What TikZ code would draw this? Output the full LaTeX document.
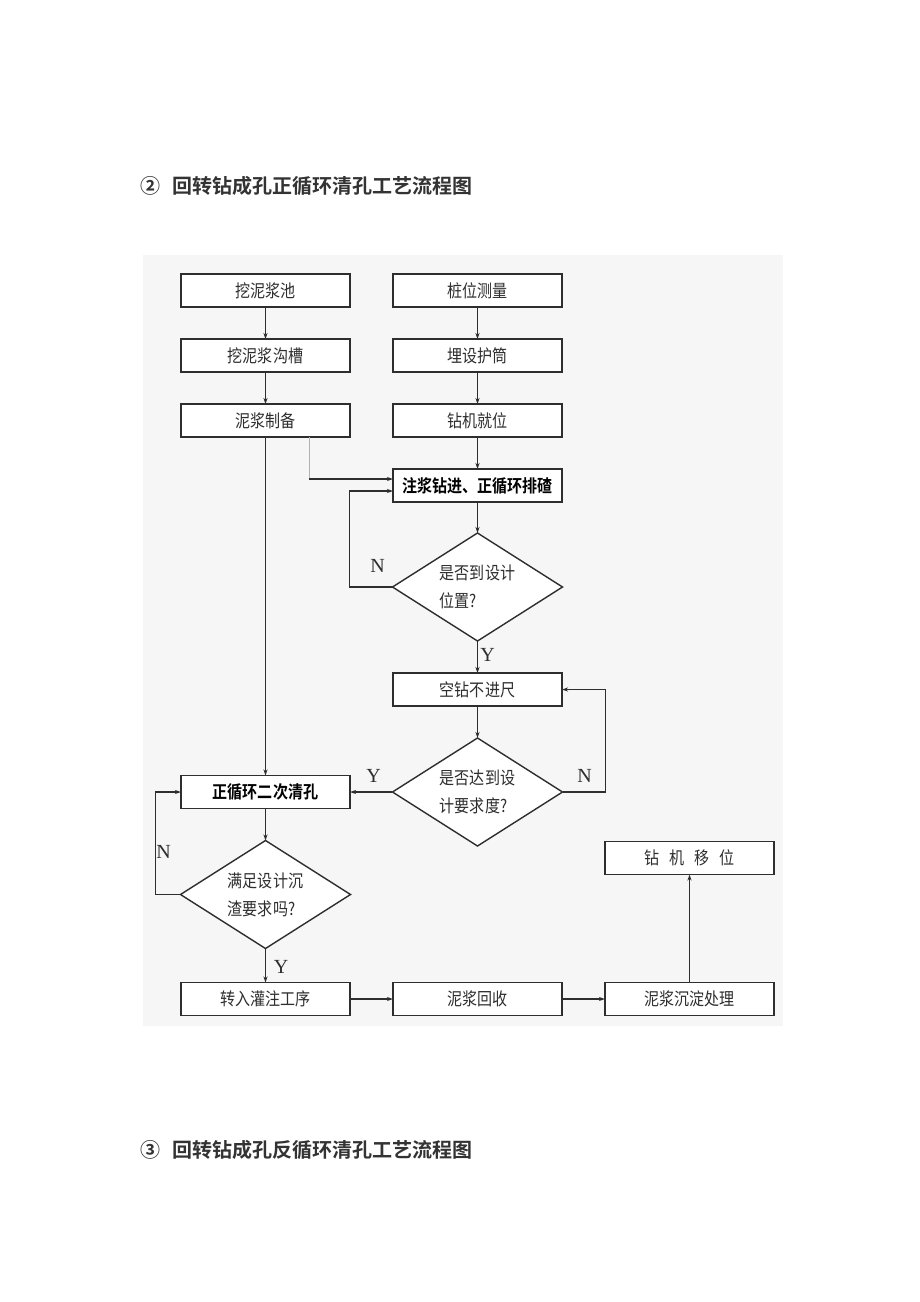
\documentclass[tikz,border=0pt]{standalone}
\usepackage{fontspec}
\setmainfont{Liberation Serif}
\newfontfamily\cjk{Noto Sans CJK SC}[BoldFont={Noto Sans CJK SC Bold}]
\newfontfamily\cjknarrow{Noto Sans CJK SC}[FakeStretch=0.86, BoldFont={Noto Sans CJK SC Bold}, BoldFeatures={FakeStretch=0.86}]
\usetikzlibrary{arrows.meta,shapes.geometric,positioning}
\definecolor{inkgray}{HTML}{2E2E2E}
\definecolor{panelgray}{HTML}{F6F6F6}

\begin{document}
\begin{tikzpicture}[x=1pt, y=-1pt,
  node distance=32pt and 43pt,
  box/.style={rectangle, draw=inkgray, line width=1.6pt, fill=white,
              minimum width=169pt, minimum height=33pt, inner sep=0pt, outer sep=0pt,
              font=\cjknarrow\fontsize{17.5}{20}\selectfont, text=inkgray},
  boldbox/.style={box, font=\cjknarrow\bfseries\fontsize{17.5}{20}\selectfont, text=black},
  decision/.style={diamond, draw=inkgray, line width=1.4pt, fill=white, aspect=1.6,
                   minimum width=170pt, minimum height=108pt, inner sep=0pt, outer sep=0pt,
                   align=left, font=\cjknarrow\fontsize{17.5}{28}\selectfont, text=inkgray},
  arr/.style={-{Stealth[length=6pt,width=4pt]}, line width=1.4pt, draw=inkgray},
  yn/.style={font=\fontsize{20}{20}\selectfont, text=inkgray},
  heading/.style={anchor=west, font=\cjk\bfseries\fontsize{20}{24}\selectfont, text=black!80}
]
\fill[white] (0,0) rectangle (920,1302);
\useasboundingbox (0,0) rectangle (920,1302);
\fill[panelgray] (143,255) rectangle (783,1026);

\node[heading] (title2) at (137,186) {②\hspace{12pt}回转钻成孔正循环清孔工艺流程图};
\node[heading] (title3) at (137,1150) {③\hspace{12pt}回转钻成孔反循环清孔工艺流程图};

\node[box] (pit) at (265.5,290.5) {挖泥浆池};
\node[box, below=of pit] (trench) {挖泥浆沟槽};
\node[box, below=of trench] (prep) {泥浆制备};
\node[box, right=of pit] (survey) {桩位测量};
\node[box, below=of survey] (casing) {埋设护筒};
\node[box, below=of casing] (rig) {钻机就位};
\node[boldbox, below=of rig] (drill) {注浆钻进、正循环排碴};
\node[decision, below=31pt of drill] (atpos) {是否到设计\\位置?};
\node[box, below=of atpos] (idle) {空钻不进尺};
\node[decision, below=of idle] (spec) {是否达到设\\计要求度?};
\node[boldbox, left=42.5pt of spec] (clean) {正循环二次清孔};
\node[decision, below=of clean] (sediment) {满足设计沉\\渣要求吗?};
\node[box, below=34pt of sediment] (pour) {转入灌注工序};
\node[box, right=of pour] (recycle) {泥浆回收};
\node[box, right=of recycle] (settle) {泥浆沉淀处理};
\node[box, above=108pt of settle] (move) {钻\hspace{10pt}机\hspace{10pt}移\hspace{10pt}位};

\draw[arr] (pit) -- (trench);
\draw[arr] (trench) -- (prep);
\draw[arr] (survey) -- (casing);
\draw[arr] (casing) -- (rig);
\draw[arr] (rig) -- (drill);
\draw[arr] (drill) -- (atpos);
\draw[arr] (atpos) -- (idle);
\draw[arr] (idle) -- (spec);
\draw[arr] (spec) -- (clean);
\draw[arr] (prep) -- (clean);
\draw[arr] (clean) -- (sediment);
\draw[arr] (sediment) -- (pour);
\draw[arr] (pour) -- (recycle);
\draw[arr] (recycle) -- (settle);
\draw[arr] (settle) -- (move);
\draw[arr] (atpos.west) -- ++(-43,0) |- ([yshift=-5.5pt]drill.west);
\draw[arr] (spec.east) -- ++(43,0) |- (idle.east);
\draw[arr] (sediment.west) -- ++(-25,0) |- (clean.west);

\coordinate (tap) at ([xshift=43.5pt]prep.south);
\coordinate (feed) at ([yshift=6.5pt]drill.west);
\draw[gray!60, line width=0.7pt] (tap) -- (tap |- feed);
\draw[arr] (tap |- feed) -- (feed);

\node[yn] (n1) at ([xshift=-15pt,yshift=21pt]atpos.west) {N};
\node[yn] (y1) at ([xshift=10pt,yshift=-14pt]atpos.south) {Y};
\node[yn] (y2) at ([xshift=-19pt,yshift=16pt]spec.west) {Y};
\node[yn] (n2) at ([xshift=22pt,yshift=16pt]spec.east) {N};
\node[yn] (n3) at ([xshift=-17pt,yshift=43pt]sediment.west) {N};
\node[yn] (y3) at ([xshift=15.5pt,yshift=-18pt]sediment.south) {Y};

\end{tikzpicture}
\end{document}
